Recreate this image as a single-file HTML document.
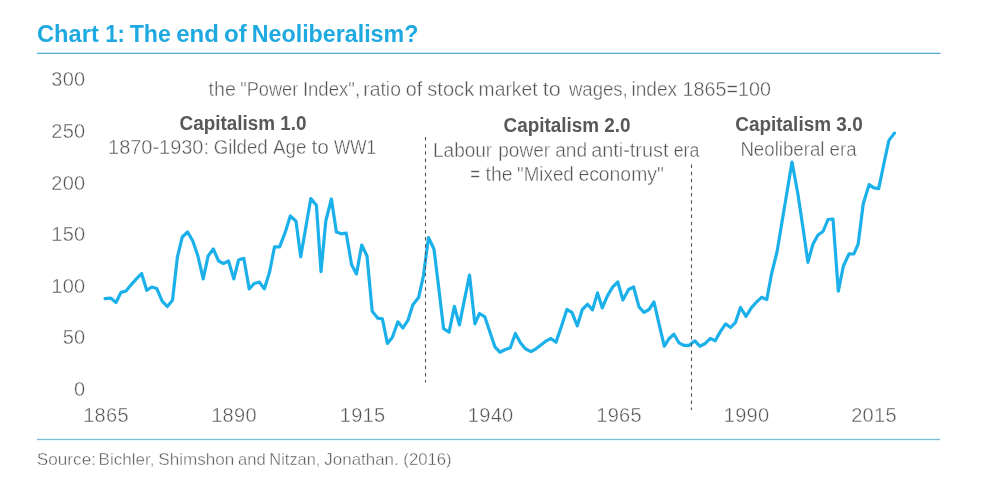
<!DOCTYPE html>
<html><head><meta charset="utf-8"><style>
html,body{margin:0;padding:0;background:#fff;}
body{width:985px;height:501px;overflow:hidden;}
svg{display:block;}
text{font-family:"Liberation Sans",Arial,sans-serif;}
.t{fill:#1fa9e1;font-weight:bold;font-size:23px;}
.g{fill:#555;font-size:19.5px;stroke:#fff;stroke-width:0.4px;}
.b{fill:#585858;font-weight:bold;font-size:20px;}
.ax{fill:#555;font-size:20px;letter-spacing:0.3px;stroke:#fff;stroke-width:0.4px;}
.src{fill:#555;font-size:16.5px;stroke:#fff;stroke-width:0.4px;}
</style></head><body>
<div style="will-change:transform"><svg width="985" height="501" viewBox="0 0 985 501">
<text class="t" y="41.8"><tspan x="37.03" textLength="61.76" lengthAdjust="spacingAndGlyphs">Chart</tspan> <tspan x="105.20" textLength="19.73" lengthAdjust="spacingAndGlyphs">1:</tspan> <tspan x="129.74" textLength="41.15" lengthAdjust="spacingAndGlyphs">The</tspan> <tspan x="176.26" textLength="42.62" lengthAdjust="spacingAndGlyphs">end</tspan> <tspan x="224.06" textLength="22.69" lengthAdjust="spacingAndGlyphs">of</tspan> <tspan x="251.85" textLength="166.49" lengthAdjust="spacingAndGlyphs">Neoliberalism?</tspan></text>
<rect x="37" y="52" width="903.5" height="1" fill="#c4eefa"/><rect x="37" y="53" width="903.5" height="1" fill="#5eaed3"/>
<g class="ax" text-anchor="end" transform="translate(1,0.4)">
<text x="84.5" y="86.1">300</text>
<text x="84.5" y="137.6">250</text>
<text x="84.5" y="189.2">200</text>
<text x="84.5" y="240.7">150</text>
<text x="84.5" y="292.2">100</text>
<text x="84.5" y="343.8">50</text>
<text x="84.5" y="395.3">0</text>
</g>
<g class="ax" text-anchor="middle">
<text x="106" y="422.2">1865</text>
<text x="234" y="422.2">1890</text>
<text x="362.6" y="422.2">1915</text>
<text x="490.7" y="422.2">1940</text>
<text x="619.1" y="422.2">1965</text>
<text x="746.6" y="422.2">1990</text>
<text x="874" y="422.2">2015</text>
</g>
<text class="g" y="96.3"><tspan x="208.60" textLength="27.27" lengthAdjust="spacingAndGlyphs">the</tspan> <tspan x="240.23" textLength="57.97" lengthAdjust="spacingAndGlyphs">"Power</tspan> <tspan x="302.89" textLength="57.18" lengthAdjust="spacingAndGlyphs">Index",</tspan> <tspan x="363.32" textLength="37.59" lengthAdjust="spacingAndGlyphs">ratio</tspan> <tspan x="405.87" textLength="16.50" lengthAdjust="spacingAndGlyphs">of</tspan> <tspan x="427.24" textLength="47.03" lengthAdjust="spacingAndGlyphs">stock</tspan> <tspan x="478.62" textLength="58.92" lengthAdjust="spacingAndGlyphs">market</tspan> <tspan x="542.67" textLength="18.04" lengthAdjust="spacingAndGlyphs">to</tspan>&#160; <tspan x="568.93" textLength="58.84" lengthAdjust="spacingAndGlyphs">wages,</tspan> <tspan x="631.42" textLength="45.79" lengthAdjust="spacingAndGlyphs">index</tspan> <tspan x="682.60" textLength="88.27" lengthAdjust="spacingAndGlyphs">1865=100</tspan></text>
<text class="b" x="179.5" y="129.8" textLength="127" lengthAdjust="spacingAndGlyphs">Capitalism 1.0</text>
<text class="g" y="154.4"><tspan x="108.08" textLength="100.84" lengthAdjust="spacingAndGlyphs">1870-1930:</tspan> <tspan x="213.76" textLength="53.94" lengthAdjust="spacingAndGlyphs">Gilded</tspan> <tspan x="273.06" textLength="33.47" lengthAdjust="spacingAndGlyphs">Age</tspan> <tspan x="311.48" textLength="17.39" lengthAdjust="spacingAndGlyphs">to</tspan> <tspan x="334.02" textLength="42.02" lengthAdjust="spacingAndGlyphs">WW1</tspan></text>
<text class="b" x="503.5" y="131.9" textLength="127" lengthAdjust="spacingAndGlyphs">Capitalism 2.0</text>
<text class="g" y="157.2"><tspan x="433.04" textLength="59.17" lengthAdjust="spacingAndGlyphs">Labour</tspan> <tspan x="498.27" textLength="51.95" lengthAdjust="spacingAndGlyphs">power</tspan> <tspan x="555.19" textLength="31.95" lengthAdjust="spacingAndGlyphs">and</tspan> <tspan x="591.15" textLength="77.39" lengthAdjust="spacingAndGlyphs">anti-trust</tspan> <tspan x="673.75" textLength="25.55" lengthAdjust="spacingAndGlyphs">era</tspan></text>
<text class="g" y="181.0"><tspan x="470.29" textLength="9.74" lengthAdjust="spacingAndGlyphs">=</tspan> <tspan x="485.51" textLength="27.06" lengthAdjust="spacingAndGlyphs">the</tspan> <tspan x="517.00" textLength="56.81" lengthAdjust="spacingAndGlyphs">"Mixed</tspan> <tspan x="578.38" textLength="85.45" lengthAdjust="spacingAndGlyphs">economy"</tspan></text>
<text class="b" x="735.2" y="130.8" textLength="127.5" lengthAdjust="spacingAndGlyphs">Capitalism 3.0</text>
<text class="g" x="740.4" y="155.7" textLength="116.2" lengthAdjust="spacingAndGlyphs">Neoliberal era</text>
<polyline points="105,298.6 110.6,298.1 116,302.5 121,292.4 126,291 131.3,284.6 136.4,278.9 141.6,273.5 146.7,290.3 151.8,287 156.7,288.5 162.3,301.4 167.3,306.5 172.5,300.3 177.4,257 182.3,237 187.6,232 192.8,241 197.9,256 203.2,278.9 208.1,256 213.3,249 218.6,261 223.4,263.5 228.5,261 233.8,278.9 238.6,260 243.8,258.3 249.2,288.9 254.2,283.5 259.3,282 264.3,288.9 269.6,272 274.5,246.9 279.6,246.9 285,232.9 290.3,216 296,221.2 300.7,256.8 305.7,228 310.8,198.6 316.4,205.2 321,271.6 325.8,221 331.4,199 336.4,232 341.3,233.8 346.2,233 351.6,264.8 356.5,273.9 361.7,245 367,256 372.2,311.3 377.8,318.2 382.4,318.9 387.4,343.5 392.4,337.2 397.9,321.8 402.9,328 407.9,320.3 412.9,304.8 418.6,297.6 423.4,276 428.5,237.5 434,249.2 439,290 443.6,328.7 449.1,332.1 454.4,306.3 459.4,324.9 464.4,300 469.5,275 474.9,323.9 479.5,313.5 484.9,316.9 489.9,331.9 494.9,346.8 499.9,352.2 504.9,349.8 510.3,347.8 515.4,333.5 520.4,342.8 525.4,348.8 530.9,351.6 536,348.8 541.2,344.8 546.4,340.8 551,338.4 556,342.2 561.5,325.9 566.9,309.5 571.9,312.3 577.3,325.9 582.3,309.5 587.5,304.3 592.5,309.9 597.5,292.9 602.3,307.9 607.4,295.9 612.8,286.9 617.8,282 622.9,300 628.6,289.5 633.6,287 639,306.9 644,312.3 649,309.5 654,302 659,323.9 664.3,346.2 668.9,338.8 673.9,334.2 678.9,342.8 683.9,345.4 688.9,345.4 694.9,340.8 699.8,346.2 704.8,343.8 710.4,338.3 715.2,340.8 720.2,331.9 725.6,323.9 730.6,327.5 735.5,322.3 740.5,307.5 746,316.3 751.3,307.9 756.3,302.3 761.5,297.3 766.8,299.5 771.5,274 777,252 782,222 787,192 792,162 797.9,194 803,228 807.9,262.3 813,244 818,235 823,231.5 828,219.5 833,219 838.3,291.2 843.4,266 849.1,253.8 853.9,254 858.2,243.8 863.2,204 869.1,184.6 873.9,187.9 878.7,188.6 883.8,164 888.9,140.4 894.5,133.1" fill="none" stroke="#1cb0ea" stroke-width="3.2" stroke-linejoin="round" stroke-linecap="round"/>
<line x1="425.5" y1="137" x2="425.5" y2="382.5" stroke="#555" stroke-width="1.1" stroke-dasharray="3.5 3.65"/>
<line x1="691.5" y1="164.5" x2="691.5" y2="410" stroke="#555" stroke-width="1.1" stroke-dasharray="3.5 3.65"/>
<rect x="37" y="438" width="903" height="1" fill="#d8f6fc"/><rect x="37" y="439" width="903" height="1" fill="#84bdd2"/><rect x="37" y="440" width="903" height="1" fill="#e2f8fc"/>
<text class="src" y="464.5"><tspan x="36.82" textLength="59.15" lengthAdjust="spacingAndGlyphs">Source:</tspan> <tspan x="98.63" textLength="55.77" lengthAdjust="spacingAndGlyphs">Bichler,</tspan> <tspan x="158.22" textLength="76.09" lengthAdjust="spacingAndGlyphs">Shimshon</tspan> <tspan x="238.00" textLength="27.67" lengthAdjust="spacingAndGlyphs">and</tspan> <tspan x="269.36" textLength="51.02" lengthAdjust="spacingAndGlyphs">Nitzan,</tspan> <tspan x="324.34" textLength="74.41" lengthAdjust="spacingAndGlyphs">Jonathan.</tspan> <tspan x="403.36" textLength="48.27" lengthAdjust="spacingAndGlyphs">(2016)</tspan></text>
</svg></div>
</body></html>
